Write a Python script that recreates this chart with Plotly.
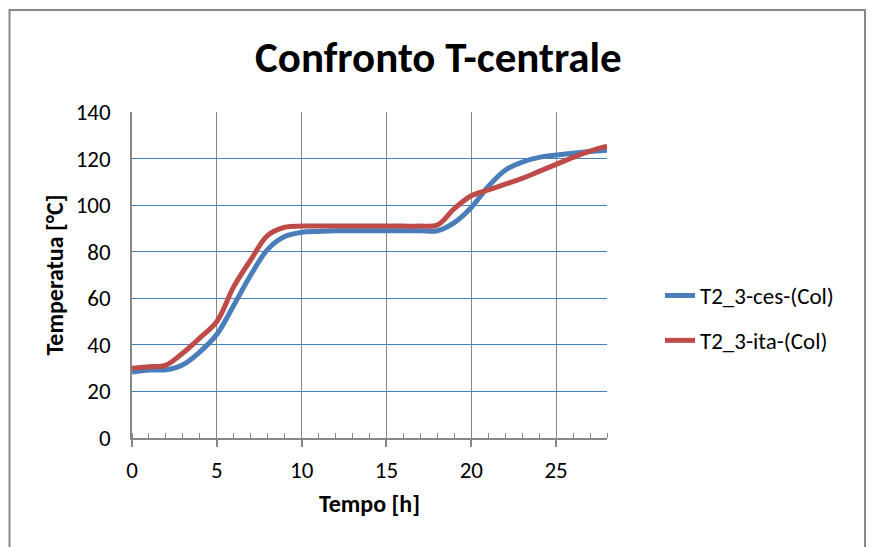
import plotly.graph_objects as go

# ---- data ----
tempo_h = list(range(0, 29))
t_ces = [28.3, 29.2, 29.3, 31.5, 37.0, 44.5, 57.0, 70.0, 81.0, 86.5, 88.3, 88.7,
         89.0, 89.0, 89.0, 89.0, 89.0, 89.0, 89.0, 92.5, 99.0, 108.0, 115.0,
         118.5, 120.5, 121.5, 122.3, 123.0, 123.6]
t_ita = [30.0, 30.6, 31.3, 36.5, 43.0, 50.0, 65.0, 76.5, 87.0, 90.5, 91.0, 91.0,
         91.0, 91.0, 91.0, 91.0, 91.0, 91.0, 91.5, 98.5, 104.0, 106.5, 109.0,
         111.5, 114.5, 117.5, 120.5, 123.2, 125.3]
series_names = ["T2_3-ces-(Col)", "T2_3-ita-(Col)"]
title_text = "Confronto T-centrale"
x_title = "Tempo [h]"
y_title = "Temperatua [°C]"

FONT = "Calibri, Carlito, Lato, sans-serif"
GRAY = "#878787"

OFF = 8  # page body margin
W, H = 874 - OFF, 547 - OFF
L, R, T, B = 132, 607, 112, 438  # page coordinates of plot area
pw, ph = R - L, B - T

def px(x):
    return (x - L) / pw

def py(y):
    return (B - y) / ph

fig = go.Figure()
fig.add_trace(go.Scatter(x=tempo_h, y=t_ces, mode="lines", name=series_names[0],
                         line=dict(color="#4A7EBB", width=5, shape="spline"),
                         legendgroup="a"))
fig.add_trace(go.Scatter(x=tempo_h, y=t_ita, mode="lines", name=series_names[1],
                         line=dict(color="#BE4B48", width=5, shape="spline"),
                         legendgroup="b"))

fig.update_layout(
    width=W, height=H,
    margin=dict(l=L - OFF, r=W - (R - OFF), t=T - OFF, b=H - (B - OFF), pad=0),
    paper_bgcolor="white", plot_bgcolor="white",
    font=dict(family=FONT, size=23, color="black"),
    showlegend=True,
    legend=dict(x=px(660), y=py(274), xanchor="left", yanchor="top",
                font=dict(family=FONT, size=23, color="black"),
                tracegroupgap=12, bgcolor="rgba(0,0,0,0)"),
    xaxis=dict(range=[0, 28], dtick=5, tick0=0, showgrid=True, gridcolor=GRAY,
               gridwidth=1, showline=True, linecolor=GRAY, linewidth=1.5,
               ticks="outside", ticklen=7, tickcolor=GRAY, tickwidth=1.5,
               zeroline=False, ticklabelstandoff=4,
               tickfont=dict(family=FONT, size=23, color="black"),
               minor=dict(dtick=1, ticks="inside", ticklen=5, tickcolor=GRAY,
                          tickwidth=1, showgrid=False),
               title=dict(text="<b>" + x_title + "</b>",
                          font=dict(family=FONT, size=24, color="black"),
                          standoff=12)),
    yaxis=dict(range=[0, 140], dtick=20, tick0=0, showgrid=True, gridcolor="#4A7EBB",
               gridwidth=1, showline=True, linecolor=GRAY, linewidth=1.5,
               ticks="", zeroline=False, ticklabelstandoff=15,
               tickfont=dict(family=FONT, size=23, color="black"),
               title=dict(text="<b>" + y_title + "</b>",
                          font=dict(family=FONT, size=24, color="black"),
                          standoff=5)),
    annotations=[dict(text="<b>" + title_text + "</b>", x=px(438), y=py(57),
                      xref="paper", yref="paper", xanchor="center", yanchor="middle",
                      showarrow=False, font=dict(family=FONT, size=43, color="black"))],
    shapes=[dict(type="rect", xref="paper", yref="paper",
                 x0=px(9.5), x1=px(865), y0=py(552), y1=py(10),
                 line=dict(color=GRAY, width=2), fillcolor="rgba(0,0,0,0)", layer="below")],
)

fig.write_html("out.html")
